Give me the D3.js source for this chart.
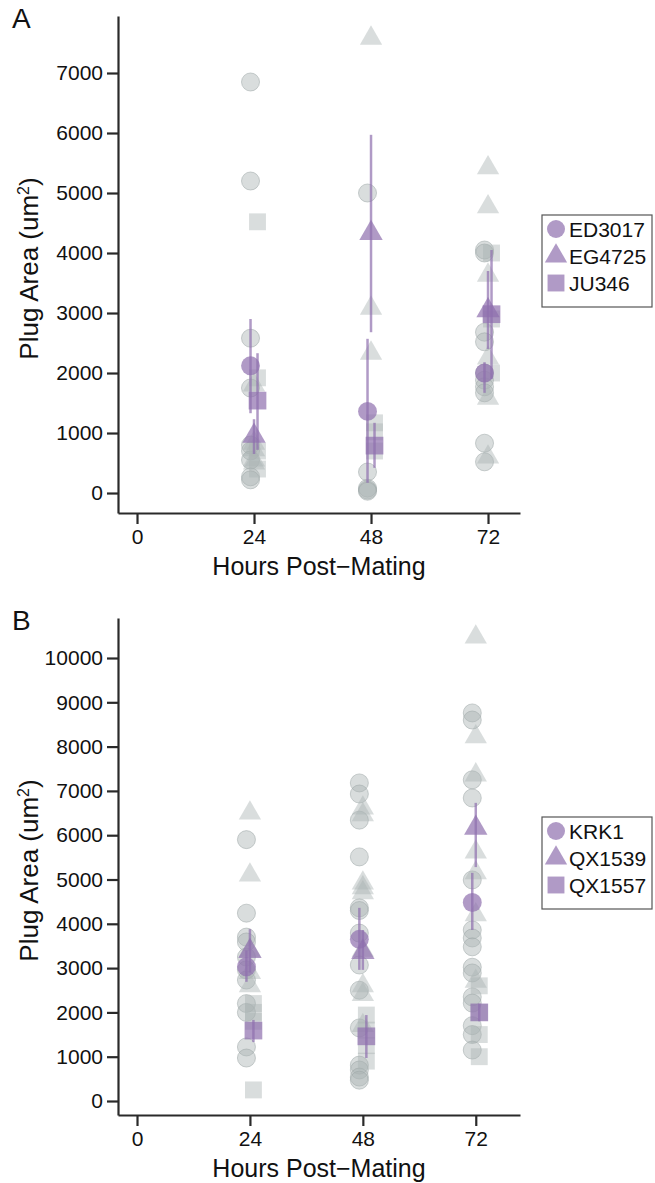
<!DOCTYPE html>
<html>
<head>
<meta charset="utf-8">
<script src="https://cdn.jsdelivr.net/npm/d3@7"></script>
<style>
  body { margin: 0; background: #fff; }
  text { font-family: "Liberation Sans", Arial, sans-serif; fill: #111; }
</style>
</head>
<body>
<script>
// ---- data ----
var hours  = [24, 48, 72];
var xTicks = [0, 24, 48, 72];
var yTicksA = [0, 1000, 2000, 3000, 4000, 5000, 6000, 7000];
var yTicksB = [0, 1000, 2000, 3000, 4000, 5000, 6000, 7000, 8000, 9000, 10000];
var strainsA = ["ED3017", "EG4725", "JU346"];
var strainsB = ["KRK1", "QX1539", "QX1557"];

// individual plugs, one list per time point (24, 48, 72 h)
var ED3017 = [[6850, 5200, 2580, 1750, 800, 700, 550, 270, 220],
              [5000, 350, 80, 50, 30],
              [4050, 4000, 2680, 2520, 2000, 1880, 1770, 1670, 830, 520]];
var EG4725 = [[1800, 830, 720, 550, 500],
              [7580, 3080, 2330],
              [5420, 4770, 3630, 2250, 1580, 600]];
var JU346  = [[4520, 1920, 700, 400],
              [1170, 1020, 700],
              [4000, 2900, 2000]];

var KRK1   = [[5900, 4240, 3700, 3590, 3250, 2960, 2730, 2200, 2000, 1220, 970],
              [7180, 6930, 6340, 5510, 4360, 4300, 3790, 3070, 2500, 1650, 810, 700, 540, 470],
              [8760, 8600, 7250, 6840, 4990, 3860, 3680, 3480, 3020, 2890, 2350, 2210, 1700, 1500, 1150]];
var QX1539 = [[6500, 5100, 3400, 2900, 2600],
              [6610, 6460, 4920, 4810, 4700, 3400, 2600, 2400, 1700],
              [10470, 8220, 7360, 5620, 5150, 4200, 2700]];
var QX1557 = [[2200, 2000, 1800, 250],
              [1940, 1600, 1250, 900],
              [2600, 2000, 1500, 1000]];

// means and error bar ends, per strain, per time point
var meanA = [[2120, 1360, 2000], [950, 4330, 3040], [1540, 790, 2980]];
var lowA  = [[1330, 170, 1670],  [650, 2680, 2400], [720, 420, 1900]];
var highA = [[2900, 2570, 2180], [1230, 5970, 3700], [2330, 1170, 4050]];

var meanB = [[3030, 3650, 4480], [3380, 3360, 6160], [1590, 1460, 2000]];
var lowB  = [[2690, 2960, 3860], [2900, 2960, 5280], [1330, 970, 1800]];
var highB = [[3400, 4360, 5150], [3880, 3860, 6730], [1830, 1940, 2200]];

// ---- drawing ----
var W = 655, H = 1183;
var svg = d3.select("body").append("svg").attr("width", W).attr("height", H);

var shapes = [d3.symbolCircle, d3.symbolTriangle, d3.symbolSquare];
var sizes  = [255, 215, 285];
var purple = "#8f6fae";

function panel(o) {
  var g = svg.append("g");
  var x = d3.scaleLinear().domain(o.xDomain).range([118, 520]);
  var y = d3.scaleLinear().domain(o.yDomain).range([o.bottom, o.top]);

  // raw points (grey)
  o.raw.forEach(function (byHour, s) {
    var pts = [];
    byHour.forEach(function (vals, h) {
      vals.forEach(function (v) { pts.push({ h: hours[h], v: v }); });
    });
    g.selectAll(null).data(pts).enter().append("path")
      .attr("d", d3.symbol().type(shapes[s]).size(sizes[s]))
      .attr("transform", function (d) { return "translate(" + (x(d.h) + (s - 1) * 3.5) + "," + y(d.v) + ")"; })
      .attr("fill", "#aab3b3").attr("fill-opacity", 0.45)
      .attr("stroke", s === 0 ? "#9aa4a4" : "none").attr("stroke-opacity", 0.5);
  });

  // error bars + means (purple)
  o.strains.forEach(function (name, s) {
    var rows = hours.map(function (h, i) {
      return { h: h, m: o.mean[s][i], lo: o.low[s][i], hi: o.high[s][i] };
    });
    g.selectAll(null).data(rows).enter().append("line")
      .attr("x1", function (d) { return x(d.h) + (s - 1) * 3.5; })
      .attr("x2", function (d) { return x(d.h) + (s - 1) * 3.5; })
      .attr("y1", function (d) { return y(d.lo); })
      .attr("y2", function (d) { return y(d.hi); })
      .attr("stroke", purple).attr("stroke-opacity", 0.7).attr("stroke-width", 2.5);
    g.selectAll(null).data(rows).enter().append("path")
      .attr("d", d3.symbol().type(shapes[s]).size(sizes[s] * 1.1))
      .attr("transform", function (d) { return "translate(" + (x(d.h) + (s - 1) * 3.5) + "," + y(d.m) + ")"; })
      .attr("fill", purple).attr("fill-opacity", 0.7);
  });

  // axes
  var ya = g.append("g").attr("transform", "translate(118,0)")
    .call(d3.axisLeft(y).tickValues(o.yTicks).tickFormat(d3.format("d"))
      .tickSize(11).tickPadding(4).tickSizeOuter(0));
  var xa = g.append("g").attr("transform", "translate(0," + o.bottom + ")")
    .call(d3.axisBottom(x).tickValues(xTicks).tickFormat(d3.format("d"))
      .tickSize(11).tickPadding(5).tickSizeOuter(0));
  [ya, xa].forEach(function (a) {
    a.selectAll("path, line").attr("stroke", "#2a2a2a").attr("stroke-width", 2.2);
    a.selectAll("text").attr("font-size", 21).attr("fill", "#111")
      .attr("font-family", "Liberation Sans, Arial, sans-serif");
  });

  // titles
  g.append("text").attr("x", 319).attr("y", o.bottom + 62)
    .attr("text-anchor", "middle").attr("font-size", 25).text("Hours Post\u2212Mating");
  var yt = g.append("text")
    .attr("transform", "translate(38," + ((o.top + o.bottom) / 2 + 4) + ") rotate(-90)")
    .attr("text-anchor", "middle").attr("font-size", 26);
  yt.append("tspan").text("Plug Area (um");
  yt.append("tspan").attr("font-size", 16).attr("dy", -9).text("2");
  yt.append("tspan").attr("dy", 9).text(")");
  g.append("text").attr("x", 12).attr("y", o.top + 12)
    .attr("font-size", 28).text(o.label);

  // legend
  var lg = g.append("g").attr("transform", "translate(542," + o.legendTop + ")");
  lg.append("rect").attr("width", 110).attr("height", 92)
    .attr("fill", "#fff").attr("stroke", "#555").attr("stroke-width", 1.2);
  o.strains.forEach(function (name, s) {
    lg.append("path")
      .attr("d", d3.symbol().type(shapes[s]).size(sizes[s]))
      .attr("transform", "translate(14," + (14 + s * 27) + ")")
      .attr("fill", purple).attr("fill-opacity", 0.7);
    lg.append("text").attr("x", 27).attr("y", 14 + s * 27)
      .attr("dy", "0.36em").attr("font-size", 21).text(name);
  });
}

panel({
  label: "A", strains: strainsA, raw: [ED3017, EG4725, JU346],
  mean: meanA, low: lowA, high: highA, yTicks: yTicksA,
  xDomain: [-3.9, 78.56], yDomain: [-333, 7950], top: 16, bottom: 513, legendTop: 215
});
panel({
  label: "B", strains: strainsB, raw: [KRK1, QX1539, QX1557],
  mean: meanB, low: lowB, high: highB, yTicks: yTicksB,
  xDomain: [-4.04, 81.4], yDomain: [-316, 10903], top: 618, bottom: 1115, legendTop: 817
});
</script>
</body>
</html>
